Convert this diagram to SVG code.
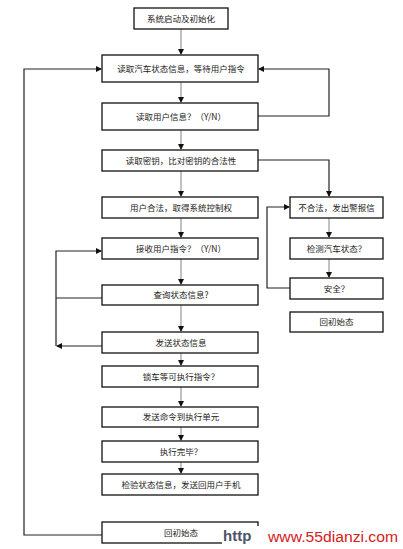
<svg xmlns="http://www.w3.org/2000/svg" width="403" height="549" viewBox="0 0 403 549">
<style>
.box{fill:#fff;stroke:#111;stroke-width:1.3}
.t{font-family:"Noto Sans CJK SC","Liberation Sans",sans-serif;font-size:8.5px;fill:#222;text-anchor:middle}
.v{stroke:#999;stroke-width:1.2;fill:none}
.l{stroke:#222;stroke-width:1.2;fill:none}
</style>
<defs>
<marker id="a" markerUnits="userSpaceOnUse" markerWidth="6" markerHeight="6" refX="5" refY="3" orient="auto">
<path d="M0,0 L6,3 L0,6 z" fill="#111"/>
</marker>
</defs>
<rect width="403" height="549" fill="#fff"/>
<g id="connectors">
<path class="v" d="M181,29 V54" marker-end="url(#a)"/>
<path class="v" d="M181,82 V102" marker-end="url(#a)"/>
<path class="v" d="M181,130 V149" marker-end="url(#a)"/>
<path class="v" d="M181,171 V196" marker-end="url(#a)"/>
<path class="v" d="M181,218 V237" marker-end="url(#a)"/>
<path class="v" d="M181,259 V284" marker-end="url(#a)"/>
<path class="v" d="M181,305 V331" marker-end="url(#a)"/>
<path class="v" d="M181,353 V365" marker-end="url(#a)"/>
<path class="v" d="M181,387 V406" marker-end="url(#a)"/>
<path class="v" d="M181,427 V440" marker-end="url(#a)"/>
<path class="v" d="M181,462 V473" marker-end="url(#a)"/>
<path class="l" d="M258,116 H329 V69 H259" marker-end="url(#a)"/>
<path class="l" d="M102,535 H24 V69 H101" marker-end="url(#a)"/>
<path class="l" d="M258,160 H329 V196" marker-end="url(#a)"/>
<path class="v" d="M329,218 V237" marker-end="url(#a)"/>
<path class="v" d="M329,259 V277" marker-end="url(#a)"/>
<path class="l" d="M290,288 H267 V207 H289" marker-end="url(#a)"/>
<path class="l" d="M102,298 H56"/>
<path class="l" d="M102,346 H57" marker-end="url(#a)"/>
<path class="l" d="M56,346 V251 H101" marker-end="url(#a)"/>
</g>
<g id="n1"><rect class="box" x="134" y="8" width="94" height="21"/><text class="t" x="181" y="21.5">系统启动及初始化</text></g>
<g id="n2"><rect class="box" x="102" y="55" width="156" height="27"/><text class="t" x="181" y="71.5">读取汽车状态信息，等待用户指令</text></g>
<g id="n3"><rect class="box" x="102" y="103" width="156" height="27"/><text class="t" x="181" y="119.5">读取用户信息？（Y/N）</text></g>
<g id="n4"><rect class="box" x="102" y="150" width="156" height="21"/><text class="t" x="181" y="163.5">读取密钥，比对密钥的合法性</text></g>
<g id="n5"><rect class="box" x="102" y="197" width="156" height="21"/><text class="t" x="181" y="210.5">用户合法，取得系统控制权</text></g>
<g id="n6"><rect class="box" x="102" y="238" width="156" height="21"/><text class="t" x="181" y="251.5">接收用户指令？（Y/N）</text></g>
<g id="n7"><rect class="box" x="102" y="285" width="156" height="20"/><text class="t" x="181" y="298">查询状态信息?</text></g>
<g id="n8"><rect class="box" x="102" y="332" width="156" height="21"/><text class="t" x="181" y="345.5">发送状态信息</text></g>
<g id="n9"><rect class="box" x="102" y="366" width="156" height="21"/><text class="t" x="181" y="379.5">锁车等可执行指令？</text></g>
<g id="n10"><rect class="box" x="102" y="407" width="156" height="20"/><text class="t" x="181" y="420">发送命令到执行单元</text></g>
<g id="n11"><rect class="box" x="102" y="441" width="156" height="21"/><text class="t" x="181" y="454.5">执行完毕？</text></g>
<g id="n12"><rect class="box" x="102" y="474" width="156" height="21"/><text class="t" x="181" y="487.5">检验状态信息，发送回用户手机</text></g>
<g id="n13"><rect class="box" x="102" y="522" width="156" height="21"/><text class="t" x="181" y="535.5">回初始态</text></g>
<g id="r1"><rect class="box" x="290" y="197" width="93" height="21"/><text class="t" x="336.5" y="210.5">不合法，发出警报信</text></g>
<g id="r2"><rect class="box" x="290" y="238" width="93" height="21"/><text class="t" x="336.5" y="251.5">检测汽车状态？</text></g>
<g id="r3"><rect class="box" x="290" y="278" width="93" height="21"/><text class="t" x="336.5" y="291.5">安全？</text></g>
<g id="r4"><rect class="box" x="290" y="312" width="93" height="20"/><text class="t" x="336.5" y="325">回初始态</text></g>
<g id="watermark">
<rect x="222" y="526" width="46" height="23" fill="#fff"/>
<text x="223" y="541" font-family="Liberation Sans,sans-serif" font-size="15" font-weight="bold" fill="#4a5568">http</text>
<text x="268" y="542" font-family="Liberation Sans,sans-serif" font-size="15.5" fill="#d42020" textLength="130" lengthAdjust="spacingAndGlyphs">www.55dianzi.com</text>
</g>
</svg>
